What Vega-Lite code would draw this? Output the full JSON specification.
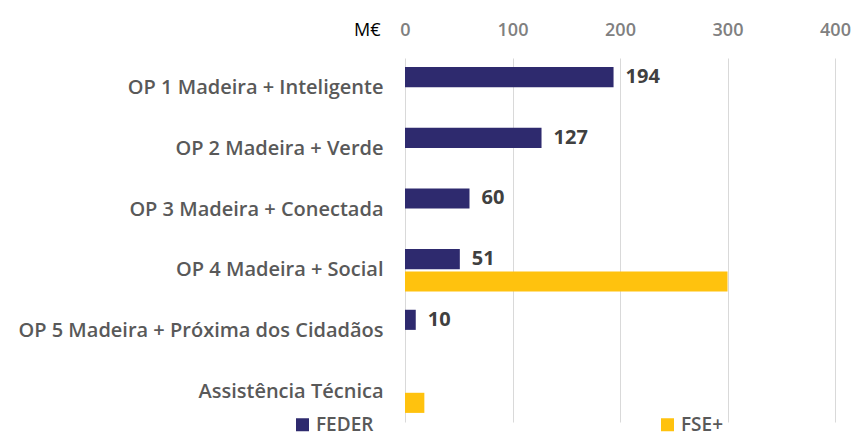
{
  "$schema": "https://vega.github.io/schema/vega-lite/v6.json",
  "width": 430,
  "height": 364,
  "autosize": {"type": "none"},
  "padding": {"left": 405, "top": 58, "right": 24, "bottom": 17},
  "background": "white",
  "config": {
    "view": {"stroke": null},
    "font": "Open Sans"
  },
  "data": {
    "values": [
      {"programa": "OP 1 Madeira + Inteligente", "fundo": "FEDER", "valor": 194},
      {"programa": "OP 2 Madeira + Verde", "fundo": "FEDER", "valor": 127},
      {"programa": "OP 3 Madeira + Conectada", "fundo": "FEDER", "valor": 60},
      {"programa": "OP 4 Madeira + Social", "fundo": "FEDER", "valor": 51},
      {"programa": "OP 4 Madeira + Social", "fundo": "FSE+", "valor": 300},
      {"programa": "OP 5 Madeira + Próxima dos Cidadãos", "fundo": "FEDER", "valor": 10},
      {"programa": "Assistência Técnica", "fundo": "FSE+", "valor": 18}
    ]
  },
  "encoding": {
    "y": {
      "field": "programa",
      "type": "nominal",
      "sort": null,
      "scale": {"domain": ["OP 1 Madeira + Inteligente", "OP 2 Madeira + Verde", "OP 3 Madeira + Conectada", "OP 4 Madeira + Social", "OP 5 Madeira + Próxima dos Cidadãos", "Assistência Técnica"], "paddingInner": 0.3, "paddingOuter": 0.15},
      "axis": {
        "title": null,
        "domain": false,
        "ticks": false,
        "labelPadding": 22,
        "labelFont": "Open Sans",
        "labelFontWeight": 600,
        "labelFontSize": 20,
        "labelColor": "#595959",
        "labelLimit": 420
      }
    },
    "yOffset": {
      "field": "fundo",
      "type": "nominal",
      "scale": {"domain": ["FEDER", "FSE+"], "paddingInner": 0.1}
    },
    "x": {
      "field": "valor",
      "type": "quantitative",
      "scale": {"domain": [0, 400]},
      "axis": {
        "orient": "top",
        "values": [0, 100, 200, 300, 400],
        "domain": false,
        "ticks": false,
        "grid": true,
        "gridColor": "#d9d9d9",
        "gridWidth": 1,
        "labelFlush": false,
        "labelFont": "Open Sans",
        "labelFontSize": 18,
        "labelFontWeight": 600,
        "labelColor": "#808080",
        "labelPadding": 19,
        "title": "M€",
        "titleFont": "Open Sans",
        "titleFontSize": 18,
        "titleFontWeight": "normal",
        "titleColor": "#000000",
        "titleX": -25,
        "titleY": -28,
        "titleAlign": "right",
        "titleBaseline": "middle",
        "titleAngle": 0
      }
    }
  },
  "layer": [
    {
      "mark": {"type": "bar"},
      "encoding": {
        "color": {
          "field": "fundo",
          "type": "nominal",
          "scale": {"domain": ["FEDER", "FSE+"], "range": ["#2E2A6E", "#FFC20E"]},
          "legend": {
            "title": null,
            "orient": "none",
            "direction": "horizontal",
            "legendX": -112,
            "legendY": 357,
            "symbolType": "square",
            "symbolSize": 169,
            "symbolStrokeWidth": 0,
            "labelFont": "Open Sans",
            "labelFontSize": 19,
            "labelFontWeight": 600,
            "labelColor": "#595959",
            "labelOffset": 4,
            "columnPadding": 284
          }
        }
      }
    },
    {
      "transform": [{"filter": "datum.fundo === 'FEDER'"}],
      "mark": {"type": "text", "align": "left", "baseline": "middle", "dx": 12, "font": "Open Sans", "fontSize": 20, "fontWeight": "bold", "color": "#404040"},
      "encoding": {
        "text": {"field": "valor", "type": "quantitative"}
      }
    }
  ]
}
